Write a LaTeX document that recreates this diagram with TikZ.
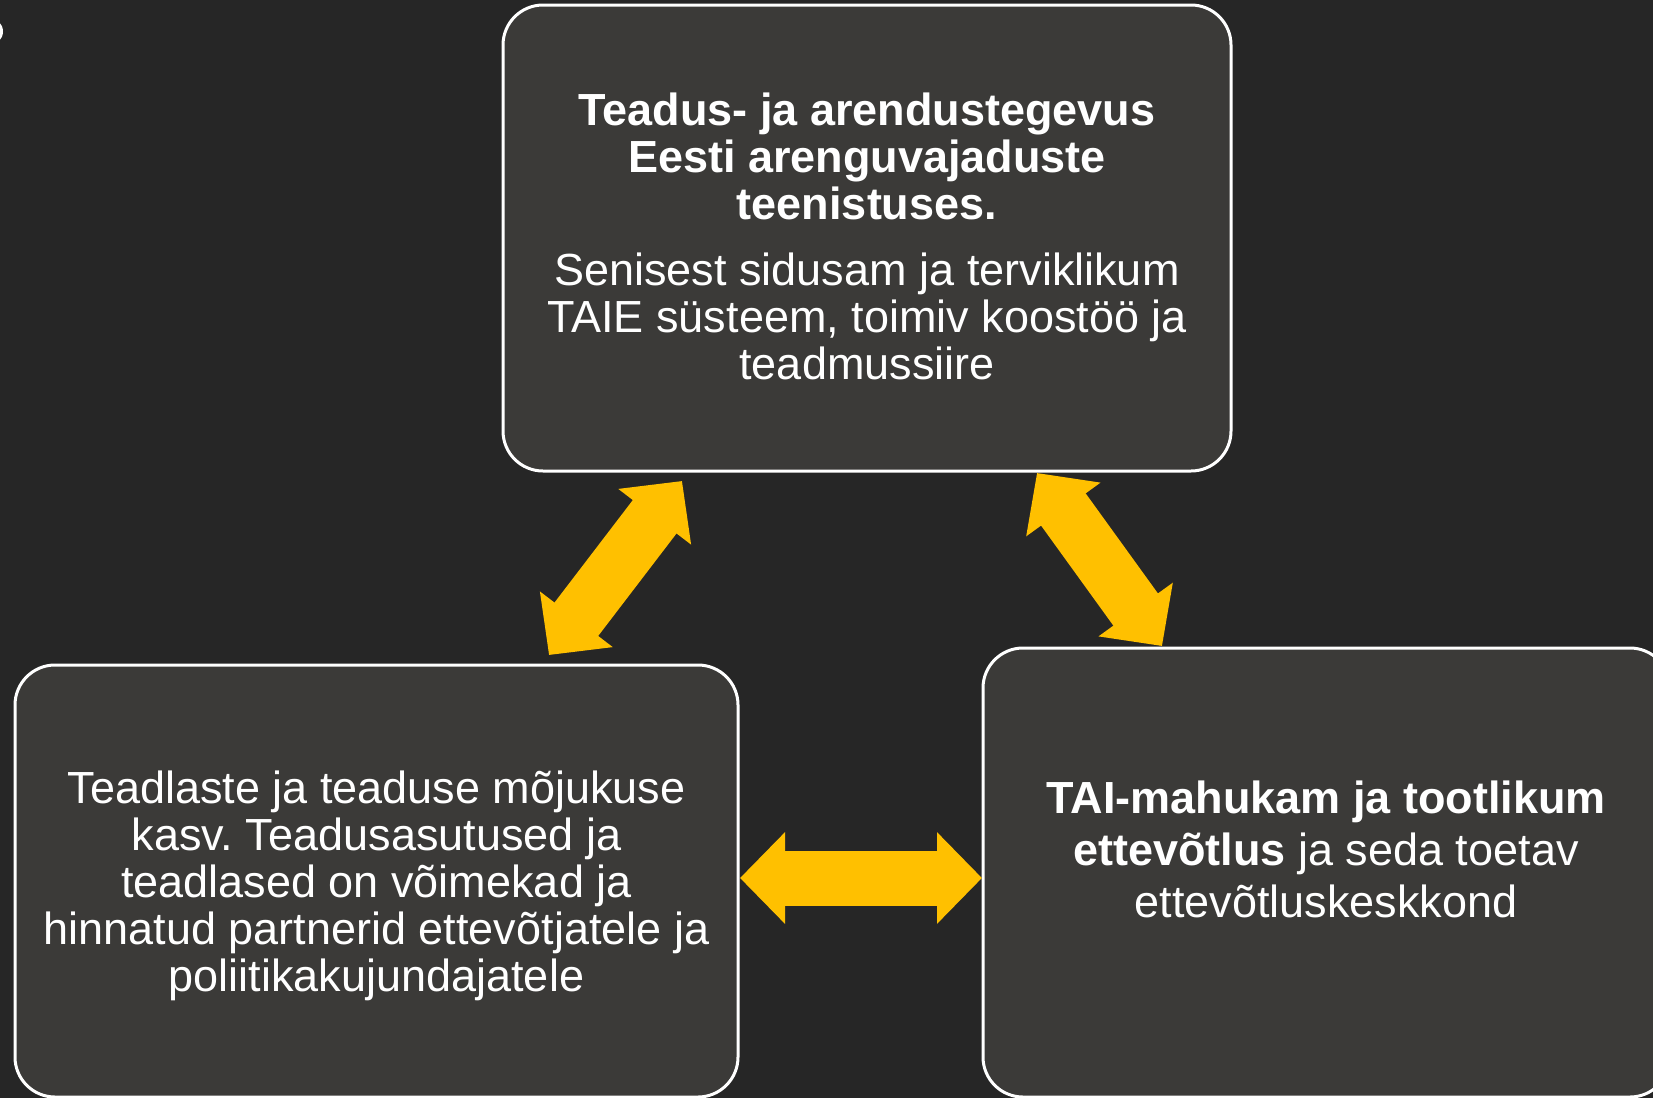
\documentclass[tikz,border=0pt]{standalone}
\usepackage{fontspec}
\setmainfont{Liberation Sans}
\usetikzlibrary{arrows.meta}
\frenchspacing
\definecolor{bg}{HTML}{262626}
\definecolor{boxgray}{HTML}{3B3A38}
\definecolor{pfeil}{HTML}{FFC000}
\tikzset{
  kast/.style={draw=white, line width=1.5pt, fill=boxgray, rounded corners=20pt,
    rectangle, inner sep=0pt},
  tekst/.style={text=white, align=center, font=\fontsize{22.5pt}{23.5pt}\selectfont},
  suurnool/.style={pfeil, line width=27.5pt,
    {Triangle[length=22.5pt,width=44.5pt]}-{Triangle[length=22.5pt,width=44.5pt]}}
}

\begin{document}
\begin{tikzpicture}[x=0.5pt, y=-0.5pt]
  % background
  \fill[bg] (0,0) rectangle (1653,1098);
  \useasboundingbox (0,0) rectangle (1653,1098);
  \fill[white] (-10.5,31.5) circle (13.5);

  % boxes
  \node [kast, minimum width=364pt, minimum height=233pt] (ta) at (867,238){};
  \node [kast, minimum width=361.5pt, minimum height=216pt] (teadus) at (376.5,881){};
  \node [kast, minimum width=343.5pt, minimum height=224.5pt] (ettevotlus) at (1326.5,872.5){};

  % texts
  \node [tekst] (ta-txt) at (867,236){\textbf{Teadus- ja arendustegevus}\\
    \textbf{Eesti arenguvajaduste}\\ \textbf{teenistuses.}\\[9.5pt]
    Senisest sidusam ja terviklikum\\ TAIE süsteem, toimiv koostöö ja\\ teadmussiire};
  \node [tekst] (teadus-txt) at (376.5,886){Teadlaste ja teaduse mõjukuse\\
    kasv. Teadusasutused ja\\ teadlased on võimekad ja\\
    hinnatud partnerid ettevõtjatele ja\\ poliitikakujundajatele};
  \node [tekst, font=\fontsize{22.5pt}{26pt}\selectfont] (ettevotlus-txt) at (1326,849)
    {\textbf{TAI-mahukam ja tootlikum}\\ \textbf{ettevõtlus} ja seda toetav\\
    ettevõtluskeskkond};

  % arrow ends
  \coordinate (v1) at (682,481);
  \coordinate (v2) at (549,655);
  \coordinate (p1) at (1037,473);
  \coordinate (p2) at (1162,646);
  \coordinate (h1) at (740,878);
  \coordinate (h2) at (982,878);

  % arrows
  \draw [suurnool] (v1)--(v2);
  \draw [suurnool] (p1)--(p2);
  \draw [suurnool] (h1)--(h2);
\end{tikzpicture}
\end{document}
